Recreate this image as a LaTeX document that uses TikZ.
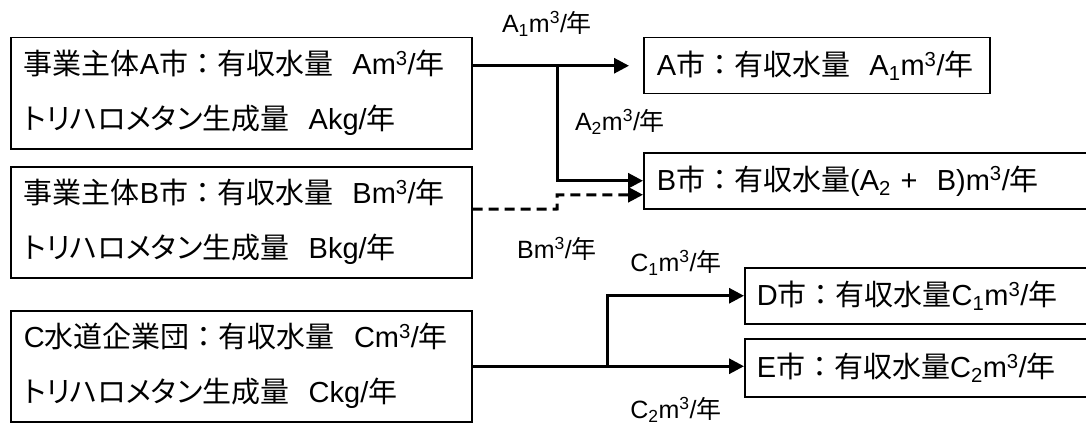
\documentclass[tikz,border=0pt]{standalone}
\usepackage{fontspec}
\setmainfont{Liberation Sans}
\newfontfamily\jp{Noto Sans CJK JP}
\newfontfamily\jpk{Noto Sans CJK JP}[RawFeature=+palt]
\usetikzlibrary{arrows.meta}
\newcommand{\jtxt}[1]{{\jp #1}}
\newcommand{\jtxk}[1]{{\jpk #1}}
\begin{document}
\begin{tikzpicture}[x=1pt, y=-1pt,
        srcbox/.style={draw, line width=1.5pt, anchor=north west, inner xsep=13pt, inner ysep=0pt,
            minimum height=111pt, text width=435pt, align=left, font=\fontsize{29}{55}\selectfont},
        citybox/.style={draw, line width=1.5pt, anchor=north west, inner xsep=13pt, inner ysep=0pt,
            minimum height=56pt, align=left, font=\fontsize{29}{34}\selectfont},
        flow/.style={line width=3pt, -{Triangle[length=15pt,width=15pt]}},
        flowlabel/.style={font=\fontsize{25}{28}\selectfont, inner sep=0pt}]
        \useasboundingbox (0,0) rectangle (1086,425);

        % suppliers
        \node[srcbox] (srcA) at (10,37) {\jtxt{事業主体}A\jtxt{市：有収水量}~~Am\textsuperscript{3}/\jtxt{年}\\
            \jtxk{トリハロメタン}\jtxt{生成量}~~Akg/\jtxt{年}};
        \node[srcbox] (srcB) at (10,166) {\jtxt{事業主体}B\jtxt{市：有収水量}~~Bm\textsuperscript{3}/\jtxt{年}\\
            \jtxk{トリハロメタン}\jtxt{生成量}~~Bkg/\jtxt{年}};
        \node[srcbox] (srcC) at (10,310) {C\jtxt{水道企業団：有収水量}~~Cm\textsuperscript{3}/\jtxt{年}\\
            \jtxk{トリハロメタン}\jtxt{生成量}~~Ckg/\jtxt{年}};

        % receiving cities
        \node[citybox, text width=320pt] (cityA) at (643,37) {A\jtxt{市：有収水量}~~A\textsubscript{1}m\textsuperscript{3}/\jtxt{年}};
        \node[citybox, text width=421pt] (cityB) at (643,152) {B\jtxt{市：有収水量}(A\textsubscript{2}~+~~B)m\textsuperscript{3}/\jtxt{年}};
        \node[citybox, inner xsep=12pt, text width=322pt] (cityD) at (744,267) {D\jtxt{市：有収水量}C\textsubscript{1}m\textsuperscript{3}/\jtxt{年}};
        \node[citybox, inner xsep=12pt, text width=322pt, minimum height=58pt] (cityE) at (744,338) {E\jtxt{市：有収水量}C\textsubscript{2}m\textsuperscript{3}/\jtxt{年}};

        \coordinate (jA) at (557,65);
        \coordinate (jB) at (557,209);
        \coordinate (jC) at (607,365.5);

        \draw[flow] (srcA.east |- cityA.west) -- ([xshift=-14pt]cityA.west);
        \draw[flow] (jA) |- (cityB.west);
        \draw[flow, dash pattern=on 10pt off 6pt] ([yshift=13pt]srcB.east) -- (jB) |- ([yshift=-14pt]cityB.west);
        \draw[flow] (srcC.east) -- (srcC.east -| cityE.west);
        \draw[flow] (jC) |- (cityD.west);

        \node[flowlabel] (lblA1) at (547,24) {A\textsubscript{1}m\textsuperscript{3}/\jtxt{年}};
        \node[flowlabel] (lblA2) at (620,122) {A\textsubscript{2}m\textsuperscript{3}/\jtxt{年}};
        \node[flowlabel] (lblB) at (557,249) {Bm\textsuperscript{3}/\jtxt{年}};
        \node[flowlabel] (lblC1) at (676,263) {C\textsubscript{1}m\textsuperscript{3}/\jtxt{年}};
        \node[flowlabel] (lblC2) at (676,410) {C\textsubscript{2}m\textsuperscript{3}/\jtxt{年}};
    \end{tikzpicture}
\end{document}
